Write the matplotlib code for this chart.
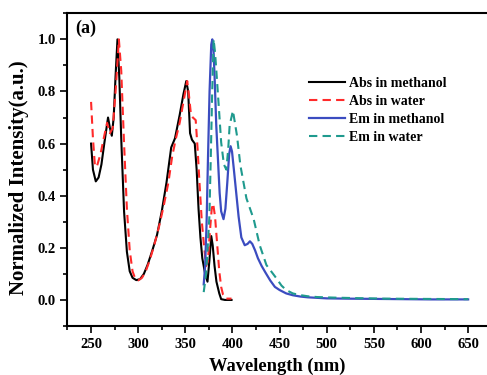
import matplotlib
matplotlib.use('Agg')
import matplotlib.pyplot as plt
from matplotlib.ticker import MultipleLocator

# Abs in methanol
abs_meoh_wl = [250, 252, 255, 258, 261, 264, 268, 270, 272, 274, 276, 278, 280, 282, 285,
               288, 291, 294, 298, 302, 306, 310, 315, 320, 325, 330, 335, 339, 344, 348,
               351, 353, 355, 357, 360, 362, 364, 366, 368, 371, 373.5, 375.5, 377.5, 379,
               381, 383, 386, 388, 392, 399]
abs_meoh_i = [0.60, 0.50, 0.455, 0.47, 0.52, 0.60, 0.70, 0.66, 0.63, 0.70, 0.86, 1.00, 0.85, 0.62, 0.34,
              0.185, 0.11, 0.085, 0.076, 0.08, 0.10, 0.135, 0.19, 0.25, 0.34, 0.45, 0.585, 0.62, 0.71, 0.79,
              0.84, 0.80, 0.64, 0.615, 0.60, 0.50, 0.35, 0.24, 0.16, 0.10, 0.07, 0.15, 0.245, 0.21,
              0.13, 0.07, 0.025, 0.003, 0.0, 0.0]

# Abs in water
abs_h2o_wl = [250, 252, 254, 256, 260, 264, 267, 270, 273, 276, 279.5, 282, 285, 288, 291,
              294, 297, 300, 304, 308, 312, 317, 322, 327, 332, 336, 340, 344, 348, 352,
              354, 356, 358, 361, 363, 365, 367.5, 369.5, 372, 374, 376, 378, 379.5, 381.5,
              384.5, 386, 388, 390, 393, 399]
abs_h2o_i = [0.76, 0.62, 0.52, 0.51, 0.56, 0.63, 0.68, 0.64, 0.66, 0.80, 1.00, 0.88, 0.60, 0.35, 0.19,
             0.11, 0.08, 0.075, 0.085, 0.11, 0.15, 0.21, 0.28, 0.36, 0.45, 0.55, 0.62, 0.68, 0.76, 0.84,
             0.78, 0.71, 0.70, 0.69, 0.58, 0.45, 0.30, 0.22, 0.13, 0.15, 0.26, 0.35, 0.37, 0.32,
             0.18, 0.11, 0.05, 0.02, 0.005, 0.005]

# Em in methanol
em_meoh_wl = [369.5, 371, 372.5, 374, 375.7, 377.5, 378.6, 380, 381, 382.8, 384.6, 386.4, 388, 390.5,
              392.5, 394.5, 396.5, 398, 399.5, 401.5, 404, 406.5, 409.4, 413, 416, 418.5, 421, 424,
              427, 431, 435, 440, 445, 450, 457, 464, 472, 480, 490, 500, 520, 550, 580, 610, 650]
em_meoh_i = [0.06, 0.13, 0.29, 0.54, 0.80, 0.98, 1.00, 0.95, 0.86, 0.67, 0.54, 0.41, 0.34, 0.31,
             0.35, 0.45, 0.56, 0.59, 0.57, 0.50, 0.41, 0.32, 0.24, 0.21, 0.215, 0.225, 0.215, 0.19,
             0.16, 0.13, 0.105, 0.075, 0.05, 0.038, 0.025, 0.018, 0.013, 0.01, 0.008, 0.006, 0.005,
             0.004, 0.003, 0.002, 0.002]

# Em in water
em_h2o_wl = [369.5, 372, 374, 375.5, 377, 378.5, 380, 381.5, 382.8, 385.7, 388, 390.9, 393.5, 395.5,
             397, 400.5, 404.8, 408.4, 414.8, 422.5, 428.9, 436, 446.6, 452, 457, 464, 471, 480,
             490, 507, 530, 560, 600, 650]
em_h2o_i = [0.03, 0.10, 0.22, 0.32, 0.55, 0.80, 1.00, 0.95, 0.885, 0.73, 0.605, 0.52, 0.50, 0.58,
            0.67, 0.726, 0.63, 0.516, 0.39, 0.31, 0.21, 0.134, 0.083, 0.055, 0.038, 0.025, 0.019, 0.014,
            0.011, 0.009, 0.007, 0.005, 0.004, 0.003]

plt.rcParams['font.family'] = 'Liberation Serif'
plt.rcParams['font.weight'] = 'bold'

fig = plt.figure(figsize=(4.87, 3.75), dpi=100)
ax = fig.add_axes([0.1386, 0.1307, 0.8614, 0.8338])

ax.plot(abs_meoh_wl, abs_meoh_i, color='black', lw=1.5, label='Abs in methanol')
ax.plot(abs_h2o_wl, abs_h2o_i, color='#ff2a2a', lw=1.5, ls=(0, (4, 2.5)), label='Abs in water')
ax.plot(em_meoh_wl, em_meoh_i, color='#3b4cc0', lw=1.6, label='Em in methanol')
ax.plot(em_h2o_wl, em_h2o_i, color='#1f9a8e', lw=1.5, ls=(0, (4, 2.5)), label='Em in water')

ax.set_xlim(225, 670)
ax.set_ylim(-0.1, 1.1)
ax.set_xticks(range(250, 651, 50))
ax.set_yticks([0.0, 0.2, 0.4, 0.6, 0.8, 1.0])
ax.xaxis.set_minor_locator(MultipleLocator(25))
ax.yaxis.set_minor_locator(MultipleLocator(0.1))
ax.tick_params(which='major', direction='out', length=5, width=1.2, labelsize=10.5)
ax.tick_params(which='minor', direction='out', length=3, width=1.2)
for lab in ax.get_xticklabels() + ax.get_yticklabels():
    lab.set_fontweight('bold')

ax.spines['right'].set_visible(False)
for s in ['left', 'bottom', 'top']:
    ax.spines[s].set_linewidth(1.5)

ax.set_xlabel('Wavelength (nm)', fontsize=13.3, fontweight='bold', labelpad=5)
ax.set_ylabel('Normalized Intensity(a.u.)', fontsize=15, fontweight='bold')
ax.yaxis.set_label_coords(-0.092, 0.473)
ax.text(0.018, 0.953, '(a)', transform=ax.transAxes, fontsize=13, fontweight='bold',
        va='center', ha='left')

ax.legend(loc='upper left', bbox_to_anchor=(0.546, 0.836), frameon=False,
          handlelength=2.6, handletextpad=0.3, labelspacing=0.35,
          prop={'family': 'Liberation Serif', 'weight': 'bold', 'size': 10})

fig.savefig('out.png', dpi=100, facecolor='white')
